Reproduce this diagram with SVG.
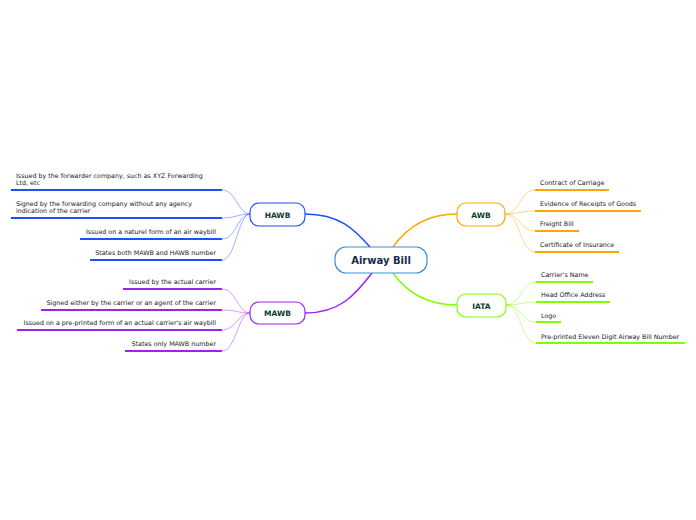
<svg xmlns="http://www.w3.org/2000/svg" width="696" height="520" viewBox="0 0 696 520">
<style>
.leaf{font-family:"DejaVu Sans",Verdana,sans-serif;font-size:6.35px;fill:#222}
.node text{font-family:"DejaVu Sans",Verdana,sans-serif;font-weight:bold;fill:#0d3b2e;text-anchor:middle}
.box{fill:#fff;stroke-width:1.2}
.ul{stroke-width:2;fill:none}
.c{fill:none}
</style>
<rect width="696" height="520" fill="#fff"/>
<g id="connectors">
  <path class="c" d="M305,214 C340,214 355,230 370,247" stroke="#1b4fff" stroke-width="1.5"/>
  <path class="c" d="M305,313 C340,313 355,295 372,273" stroke="#a020f0" stroke-width="1.5"/>
  <path class="c" d="M457,214 C425,214 405,230 393,247" stroke="#ffa500" stroke-width="1.5"/>
  <path class="c" d="M457,305 C425,305 405,290 393,273" stroke="#80ff00" stroke-width="1.5"/>
  <g stroke="#1b4fff" stroke-opacity="0.55" stroke-width="0.8" fill="none">
    <path d="M250,214 C238,214 236,190 222,190"/>
    <path d="M250,214 C238,214 236,218 222,218"/>
    <path d="M250,214 C238,214 236,239 222,239"/>
    <path d="M250,214 C238,214 236,260 222,260"/>
  </g>
  <g stroke="#a020f0" stroke-opacity="0.55" stroke-width="0.8" fill="none">
    <path d="M250,313 C238,313 236,289 222,289"/>
    <path d="M250,313 C238,313 236,310 222,310"/>
    <path d="M250,313 C238,313 236,330 222,330"/>
    <path d="M250,313 C238,313 236,351 222,351"/>
  </g>
  <g stroke="#ffa500" stroke-opacity="0.55" stroke-width="0.8" fill="none">
    <path d="M505,214 C520,214 520,190 535,190"/>
    <path d="M505,214 C520,214 520,211 535,211"/>
    <path d="M505,214 C520,214 520,231 535,231"/>
    <path d="M505,214 C520,214 520,252 535,252"/>
  </g>
  <g stroke="#80ff00" stroke-opacity="0.55" stroke-width="0.8" fill="none">
    <path d="M506,305 C521,305 521,282 536,282"/>
    <path d="M506,305 C521,305 521,302 536,302"/>
    <path d="M506,305 C521,305 521,322 536,322"/>
    <path d="M506,305 C521,305 521,343 536,343"/>
  </g>
</g>
<g id="center" class="node">
  <rect class="box" x="335" y="247" width="92" height="26" rx="11" stroke="#3b8fd4"/>
  <text x="381" y="264" font-size="10" style="fill:#1a2a4a">Airway Bill</text>
</g>
<g id="hawb" class="node">
  <rect class="box" x="250" y="203" width="55" height="23" rx="9" stroke="#1b4fff"/>
  <text x="277.5" y="218" font-size="7.5">HAWB</text>
</g>
<g id="mawb" class="node">
  <rect class="box" x="250" y="302" width="55" height="22" rx="9" stroke="#a020f0"/>
  <text x="277.5" y="316" font-size="7.5">MAWB</text>
</g>
<g id="awb" class="node">
  <rect class="box" x="457" y="203" width="48" height="23" rx="9" stroke="#ffa500"/>
  <text x="481" y="218" font-size="7.5">AWB</text>
</g>
<g id="iata" class="node">
  <rect class="box" x="457" y="294" width="49" height="23" rx="9" stroke="#80ff00"/>
  <text x="481.5" y="309" font-size="7.5">IATA</text>
</g>
<g id="hawb-1"><text class="leaf" x="16" y="178">Issued by the forwarder company, such as XYZ Forwarding</text><text class="leaf" x="16" y="185">Ltd, etc</text><line class="ul" x1="11" y1="190" x2="222" y2="190" stroke="#1b4fff"/></g>
<g id="hawb-2"><text class="leaf" x="16" y="206">Signed by the forwarding company without any agency</text><text class="leaf" x="16" y="213">indication of the carrier</text><line class="ul" x1="11" y1="218" x2="222" y2="218" stroke="#1b4fff"/></g>
<g id="hawb-3"><text class="leaf" x="216" y="234" text-anchor="end">Issued on a naturel form of an air waybill</text><line class="ul" x1="80" y1="239" x2="222" y2="239" stroke="#1b4fff"/></g>
<g id="hawb-4"><text class="leaf" x="216" y="255" text-anchor="end">States both MAWB and HAWB number</text><line class="ul" x1="90" y1="260" x2="222" y2="260" stroke="#1b4fff"/></g>
<g id="mawb-1"><text class="leaf" x="216" y="284" text-anchor="end">Issued by the actual carrier</text><line class="ul" x1="123" y1="289" x2="222" y2="289" stroke="#a020f0"/></g>
<g id="mawb-2"><text class="leaf" x="216" y="305" text-anchor="end">Signed either by the carrier or an agent of the carrier</text><line class="ul" x1="41" y1="310" x2="222" y2="310" stroke="#a020f0"/></g>
<g id="mawb-3"><text class="leaf" x="216" y="325" text-anchor="end">Issued on a pre-printed form of an actual carrier's air waybill</text><line class="ul" x1="17" y1="330" x2="222" y2="330" stroke="#a020f0"/></g>
<g id="mawb-4"><text class="leaf" x="216" y="346" text-anchor="end">States only MAWB number</text><line class="ul" x1="125" y1="351" x2="222" y2="351" stroke="#a020f0"/></g>
<g id="awb-1"><text class="leaf" x="540" y="185">Contract of Carriage</text><line class="ul" x1="535" y1="190" x2="609" y2="190" stroke="#ffa500"/></g>
<g id="awb-2"><text class="leaf" x="540" y="206">Evidence of Receipts of Goods</text><line class="ul" x1="535" y1="211" x2="641" y2="211" stroke="#ffa500"/></g>
<g id="awb-3"><text class="leaf" x="540" y="226">Freight Bill</text><line class="ul" x1="535" y1="231" x2="579" y2="231" stroke="#ffa500"/></g>
<g id="awb-4"><text class="leaf" x="540" y="247">Certificate of Insurance</text><line class="ul" x1="535" y1="252" x2="619" y2="252" stroke="#ffa500"/></g>
<g id="iata-1"><text class="leaf" x="541" y="277">Carrier's Name</text><line class="ul" x1="536" y1="282" x2="593" y2="282" stroke="#80ff00"/></g>
<g id="iata-2"><text class="leaf" x="541" y="297">Head Office Address</text><line class="ul" x1="536" y1="302" x2="610" y2="302" stroke="#80ff00"/></g>
<g id="iata-3"><text class="leaf" x="541" y="318">Logo</text><line class="ul" x1="536" y1="322" x2="561" y2="322" stroke="#80ff00"/></g>
<g id="iata-4"><text class="leaf" x="541" y="339">Pre-printed Eleven Digit Airway Bill Number</text><line class="ul" x1="536" y1="343" x2="685" y2="343" stroke="#80ff00"/></g>
</svg>
